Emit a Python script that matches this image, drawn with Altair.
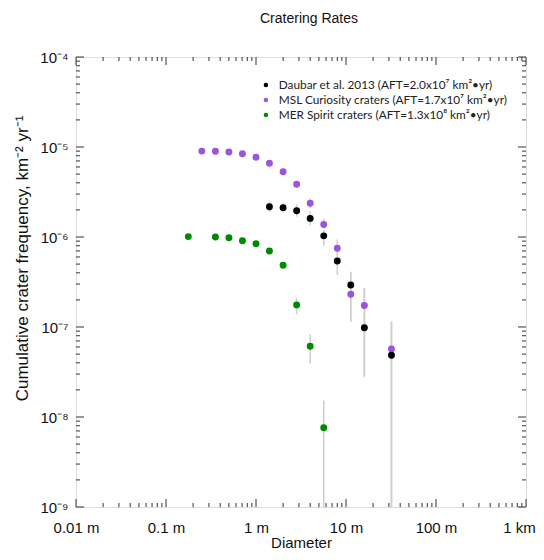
import json
import altair as alt
import pandas as pd

# ---------------- data ----------------
series_names = [
    "Daubar et al. 2013 (AFT=2.0x10⁷ km²•yr)",
    "MSL Curiosity craters (AFT=1.7x10⁷ km²•yr)",
    "MER Spirit craters (AFT=1.3x10⁸ km²•yr)",
]
series_colors = ["#000000", "#9955dd", "#008a00"]

black_d = [1.41, 2.0, 2.83, 4.0, 5.66, 8.0, 11.3, 16.0, 32.0]
black_f = [2.17e-6, 2.12e-6, 1.96e-6, 1.61e-6, 1.03e-6, 5.4e-7, 2.93e-7, 9.8e-8, 4.85e-8]
black_lo = [1.91e-6, 1.87e-6, 1.68e-6, 1.35e-6, 8.0e-7, 3.78e-7, 1.15e-7, 2.8e-8, 1e-9]
black_hi = [2.47e-6, 2.40e-6, 2.29e-6, 1.93e-6, 1.2e-6, 6.3e-7, 4.1e-7, 2.7e-7, 1.15e-7]

purple_d = [0.25, 0.354, 0.5, 0.707, 1.0, 1.41, 2.0, 2.83, 4.0, 5.66, 8.0, 11.3, 16.0, 32.0]
purple_f = [9.0e-6, 8.95e-6, 8.8e-6, 8.4e-6, 7.7e-6, 6.6e-6, 5.3e-6, 3.85e-6, 2.37e-6,
            1.38e-6, 7.5e-7, 2.31e-7, 1.73e-7, 5.7e-8]
purple_err_d = [4.0, 5.66, 8.0, 11.3, 16.0, 32.0]
purple_lo = [2.1e-6, 1.25e-6, 6.3e-7, 1.15e-7, 2.8e-8, 1e-9]
purple_hi = [2.7e-6, 1.6e-6, 9.4e-7, 4.1e-7, 2.7e-7, 1.15e-7]

green_d = [0.177, 0.354, 0.5, 0.707, 1.0, 1.41, 2.0, 2.83, 4.0, 5.66]
green_f = [1.01e-6, 1.0e-6, 9.8e-7, 9.1e-7, 8.4e-7, 7.0e-7, 4.85e-7, 1.76e-7, 6.1e-8, 7.6e-9]
green_err_d = [2.83, 4.0, 5.66]
green_lo = [1.38e-7, 3.95e-8, 1e-9]
green_hi = [2.08e-7, 8.3e-8, 1.52e-8]

x_major = [0.01, 0.1, 1, 10, 100, 1000]
x_tick_labels = ["0.01 m", "0.1 m", "1 m", "10 m", "100 m", "1 km"]
y_major = [1e-9, 1e-8, 1e-7, 1e-6, 1e-5, 1e-4]
y_tick_labels = ["10⁻⁹", "10⁻⁸", "10⁻⁷", "10⁻⁶", "10⁻⁵", "10⁻⁴"]

# ---------------- tables ----------------
pts = pd.concat([
    pd.DataFrame({"d": purple_d, "f": purple_f, "s": series_names[1]}),
    pd.DataFrame({"d": green_d, "f": green_f, "s": series_names[2]}),
    pd.DataFrame({"d": black_d, "f": black_f, "s": series_names[0]}),
], ignore_index=True)

errs = pd.concat([
    pd.DataFrame({"d": purple_err_d, "lo": purple_lo, "hi": purple_hi}),
    pd.DataFrame({"d": green_err_d, "lo": green_lo, "hi": green_hi}),
    pd.DataFrame({"d": black_d, "lo": black_lo, "hi": black_hi}),
], ignore_index=True)

x_minor = [k * 10.0 ** e for e in range(-2, 3) for k in range(2, 10)]
y_minor = [k * 10.0 ** e for e in range(-9, -4) for k in range(2, 10)]

W = H = 450
FONT = "Liberation Sans"

xscale = alt.Scale(type="log", domain=[0.01, 1000], nice=False)
yscale = alt.Scale(type="log", domain=[1e-9, 1e-4], nice=False)

x_expr = json.dumps(x_tick_labels, ensure_ascii=False) + "[round(log(datum.value)/LN10)+2]"
y_expr = json.dumps(y_tick_labels, ensure_ascii=False) + "[round(log(datum.value)/LN10)+9]"

xaxis = alt.Axis(values=x_major, labelExpr=x_expr, ticks=False, domain=False, grid=False,
                 title="Diameter", labelFontSize=15, titleFontSize=15, labelPadding=13,
                 titlePadding=0, labelFont=FONT, titleFont=FONT, titleFontWeight="normal",
                 labelColor="#111", titleColor="#111", labelFlush=False,
                 labelOffset={"condition": {"test": "datum.value >= 1000", "value": -7},
                              "value": 0})
yaxis = alt.Axis(values=y_major, labelExpr=y_expr, ticks=False, domain=False, grid=False,
                 title="Cumulative crater frequency, km⁻² yr⁻¹", labelFontSize=15,
                 titleFontSize=17, labelPadding=8, labelFont=FONT, titleFont=FONT,
                 titleFontWeight="normal", labelColor="#111", titleColor="#111",
                 titleX=-54, titleY=201, titleAlign="center", titleBaseline="middle",
                 labelFlush=False)

base_err = alt.Chart(errs).mark_rule(color="#d0d0d0", strokeWidth=1.6, clip=True).encode(
    x=alt.X("d:Q", scale=xscale, axis=xaxis),
    y=alt.Y("lo:Q", scale=yscale, axis=yaxis),
    y2="hi:Q",
)

points = alt.Chart(pts).mark_circle(size=48, opacity=1).encode(
    x=alt.X("d:Q", scale=xscale),
    y=alt.Y("f:Q", scale=yscale),
    color=alt.Color("s:N", scale=alt.Scale(domain=series_names, range=series_colors),
                    legend=alt.Legend(orient="none", legendX=184, legendY=22, title=None,
                                      labelFont="Lato", labelFontSize=11.8, labelColor="#222",
                                      symbolType="circle", symbolSize=20, symbolStrokeWidth=0,
                                      labelOffset=7, rowPadding=2, padding=0,
                                      labelLimit=400)),
)

def xticks(vals, yc, length):
    return alt.Chart(pd.DataFrame({"v": vals})).mark_tick(
        orient="vertical", color="#333", thickness=1, opacity=1).encode(
        x=alt.X("v:Q", scale=xscale), y=alt.value(yc), size=alt.value(length))

def yticks(vals, xc, length):
    return alt.Chart(pd.DataFrame({"v": vals})).mark_tick(
        orient="horizontal", color="#333", thickness=1, opacity=1).encode(
        y=alt.Y("v:Q", scale=yscale), x=alt.value(xc), size=alt.value(length))

MAJ, MIN = 8, 4
tick_layers = [
    xticks(x_major, H - MAJ / 2, MAJ), xticks(x_minor, H - MIN / 2, MIN),
    xticks(x_major, MAJ / 2, MAJ), xticks(x_minor, MIN / 2, MIN),
    yticks(y_major, MAJ / 2, MAJ), yticks(y_minor, MIN / 2, MIN),
    yticks(y_major, W - MAJ / 2, MAJ), yticks(y_minor, W - MIN / 2, MIN),
]

chart = alt.layer(base_err, *tick_layers, points).properties(
    width=W, height=H,
    title=alt.TitleParams("Cratering Rates", fontSize=14, fontWeight="normal", font=FONT,
                          anchor="middle", dx=8, offset=24, color="#111"),
    autosize=alt.AutoSizeParams(type="none"),
    padding={"left": 68, "top": 49, "right": 10, "bottom": 45},
).configure_view(stroke="#222", strokeWidth=1).configure(background="white")

chart.save("out.html", embed_options={"renderer": "svg", "actions": False})
